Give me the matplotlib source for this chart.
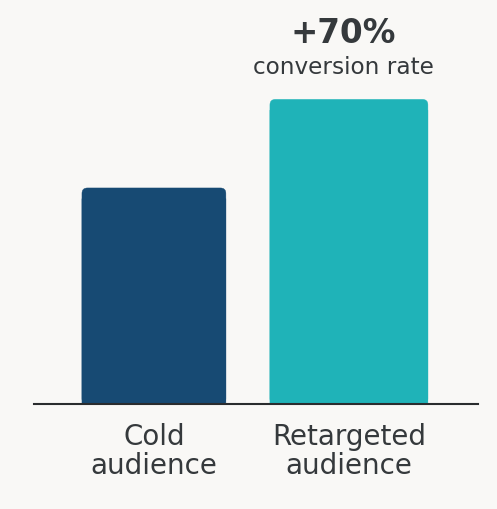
import matplotlib.pyplot as plt
from matplotlib.patches import FancyBboxPatch, Rectangle

categories = ["Cold\naudience", "Retargeted\naudience"]
values = [1.0, 1.41]
bar_colors = ["#174a73", "#1fb3b8"]
bar_widths = [0.738, 0.81]
lift_label = "+70%"
lift_caption = "conversion rate"

bg = "#f9f8f6"
text_color = "#35393c"

plt.rcParams['font.family'] = ['DejaVu Sans']

fig = plt.figure(figsize=(4.97, 5.09), dpi=100, facecolor=bg)
ax = fig.add_axes([34 / 497, 105 / 509, 444 / 497, 404 / 509])
ax.set_facecolor(bg)

x = list(range(len(categories)))
ax.set_xlim(-0.615, 1.662)
ax.set_ylim(0, 1.87)

# rounded top corners: rounded box plus a plain block over the lower part
r = 0.028
for xi, v, w, c in zip(x, values, bar_widths, bar_colors):
    ax.add_patch(FancyBboxPatch((xi - w / 2, 0), w, v,
                                boxstyle=f"round,pad=0,rounding_size={r}",
                                mutation_aspect=0.9, fc=c, ec=c, lw=0.3,
                                snap=False))
    ax.add_patch(Rectangle((xi - w / 2, 0), w, v - 0.05, fc=c, ec=c, lw=0.3,
                           snap=False))

for s in ["top", "right", "left"]:
    ax.spines[s].set_visible(False)
ax.spines["bottom"].set_color("#2a2c2e")
ax.spines["bottom"].set_linewidth(1.5)
ax.set_yticks([])
ax.set_xticks(x)
ax.set_xticklabels(categories, fontsize=20, color=text_color, linespacing=1.03)
ax.tick_params(axis="x", length=0, pad=14)

ax.annotate(lift_label, xy=(x[1], values[1]), xytext=(-4, 66 * 0.72),
            textcoords="offset points", ha="center", va="center",
            fontsize=23.5, fontweight="bold", color=text_color)
ax.annotate(lift_caption, xy=(x[1], values[1]), xytext=(-4, 32 * 0.72),
            textcoords="offset points", ha="center", va="center",
            fontsize=16.7, color=text_color)

fig.savefig("out.png", dpi=100, facecolor=bg)
